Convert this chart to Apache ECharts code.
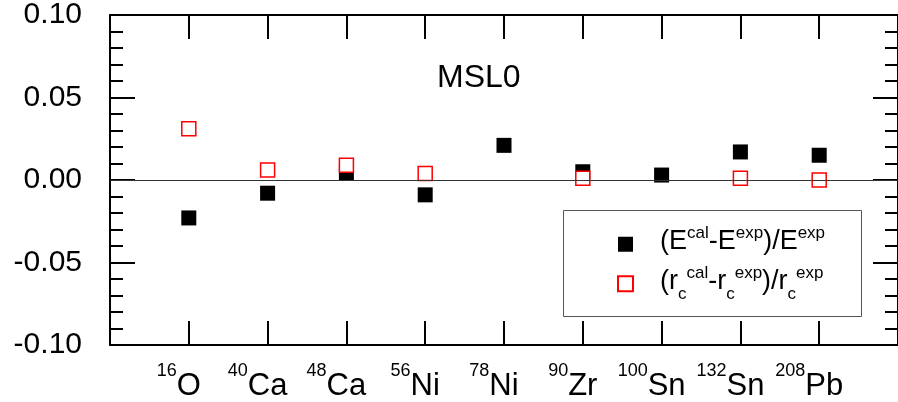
<!DOCTYPE html>
<html>
<head>
<meta charset="utf-8">
<script src="https://cdn.jsdelivr.net/npm/echarts@6/dist/echarts.min.js"></script>
<style>
  html, body { margin: 0; padding: 0; background: #fff; }
  #chart { width: 898px; height: 402px; }
</style>
</head>
<body>
<div id="chart"></div>
<script>
// nuclei along the x axis
const massNumbers = ['16', '40', '48', '56', '78', '90', '100', '132', '208'];
const elements = ['O', 'Ca', 'Ca', 'Ni', 'Ni', 'Zr', 'Sn', 'Sn', 'Pb'];

// relative deviations (null = not shown)
const energyDev = [-0.023, -0.008, 0.004, -0.009, 0.021, 0.005, 0.003, 0.017, 0.015];
const radiusDev = [0.031, 0.006, 0.009, 0.004, null, 0.001, null, 0.001, 0.000];

const yTicks = [-0.10, -0.05, 0.00, 0.05, 0.10];

const FONT = 'Liberation Sans';

function toPoints(arr) {
  const out = [];
  arr.forEach((v, i) => { if (v !== null) out.push([i + 1, v]); });
  return out;
}

const chart = echarts.init(document.getElementById('chart'));

const frame = { show: true, onZero: false, lineStyle: { color: '#000', width: 2 } };
const tickMajor = { show: true, inside: true, length: 24, lineStyle: { color: '#000', width: 2 } };

chart.setOption({
  animation: false,
  backgroundColor: '#fff',
  title: {
    text: 'MSL0',
    left: 432,
    top: 57,
    textStyle: { fontFamily: FONT, fontSize: 32, fontWeight: 'normal', color: '#000' }
  },
  grid: { left: 110, top: 15, right: -2, bottom: 56 },
  graphic: [{
    type: 'rect',
    shape: { x: 563.5, y: 210.5, width: 298, height: 106 },
    style: { fill: '#fff', stroke: '#555', lineWidth: 1 },
    z: 5
  }],
  legend: {
    orient: 'vertical',
    left: 617,
    top: 225,
    padding: 0,
    itemGap: 9,
    itemWidth: 15,
    itemHeight: 15,
    z: 10,
    data: ['E', 'r'],
    formatter: function (name) {
      if (name === 'E') {
        return '{f|(E}{s|cal}{n|-E}{s|exp}{n|)/E}{s|exp}';
      }
      return '{f|(r}{b|c}{s|cal}{n|-r}{b|c}{s|exp}{n|)/r}{b|c}{s|exp}';
    },
    textStyle: {
      fontFamily: FONT,
      color: '#000',
      rich: {
        f: { fontFamily: FONT, fontSize: 27, lineHeight: 38.5, verticalAlign: 'top', padding: [3.5, 0, 0, 22], color: '#000' },
        n: { fontFamily: FONT, fontSize: 27, lineHeight: 38.5, verticalAlign: 'top', padding: [3.5, 0, 0, 0], color: '#000' },
        s: { fontFamily: FONT, fontSize: 17, lineHeight: 17, verticalAlign: 'top', color: '#000' },
        b: { fontFamily: FONT, fontSize: 17, lineHeight: 17, verticalAlign: 'bottom', color: '#000' }
      }
    }
  },
  xAxis: [{
    type: 'value',
    position: 'bottom',
    min: 0,
    max: 10,
    interval: 1,
    axisLine: frame,
    axisTick: tickMajor,
    splitLine: { show: false },
    axisLabel: {
      margin: 17,
      padding: [0, 20, 0, 0],
      showMinLabel: false,
      showMaxLabel: false,
      formatter: function (v) {
        const i = Math.round(v) - 1;
        if (i < 0 || i >= massNumbers.length) return '';
        return '{s|' + massNumbers[i] + '}{n|' + elements[i] + '}';
      },
      rich: {
        n: { fontFamily: FONT, fontSize: 31, lineHeight: 41, verticalAlign: 'top', padding: [9, 0, 0, 0], color: '#000' },
        s: { fontFamily: FONT, fontSize: 18, lineHeight: 18, verticalAlign: 'top', color: '#000' }
      }
    }
  }, {
    type: 'value',
    position: 'top',
    min: 0,
    max: 10,
    interval: 1,
    axisLine: frame,
    axisTick: tickMajor,
    axisLabel: { show: false },
    splitLine: { show: false }
  }],
  yAxis: [{
    type: 'value',
    position: 'left',
    min: yTicks[0],
    max: yTicks[yTicks.length - 1],
    interval: 0.05,
    axisLine: frame,
    axisTick: { show: true, inside: true, length: 25, lineStyle: { color: '#000', width: 2 } },
    minorTick: { show: true, splitNumber: 5, length: 13, lineStyle: { color: '#000', width: 2 } },
    splitLine: { show: false },
    axisLabel: {
      margin: 28,
      fontFamily: FONT,
      fontSize: 30,
      color: '#000',
      formatter: function (v) { return v.toFixed(2); }
    }
  }, {
    type: 'value',
    position: 'right',
    min: yTicks[0],
    max: yTicks[yTicks.length - 1],
    interval: 0.05,
    axisLine: frame,
    axisTick: { show: true, inside: true, length: 25, lineStyle: { color: '#000', width: 2 } },
    minorTick: { show: true, splitNumber: 5, length: 13, lineStyle: { color: '#000', width: 2 } },
    splitLine: { show: false },
    axisLabel: { show: false }
  }],
  series: [{
    name: 'E',
    type: 'scatter',
    symbol: 'rect',
    symbolSize: 15,
    itemStyle: { color: '#000', opacity: 1 },
    data: toPoints(energyDev),
    z: 3,
    markLine: {
      silent: true,
      symbol: 'none',
      label: { show: false },
      lineStyle: { color: '#333', width: 1, type: 'solid' },
      data: [{ yAxis: 0 }]
    }
  }, {
    name: 'r',
    type: 'scatter',
    symbol: 'rect',
    symbolSize: 14,
    itemStyle: { color: '#fff', borderColor: '#ff0000', borderWidth: 1.5, opacity: 1 },
    data: toPoints(radiusDev),
    z: 4
  }]
});
</script>
</body>
</html>
